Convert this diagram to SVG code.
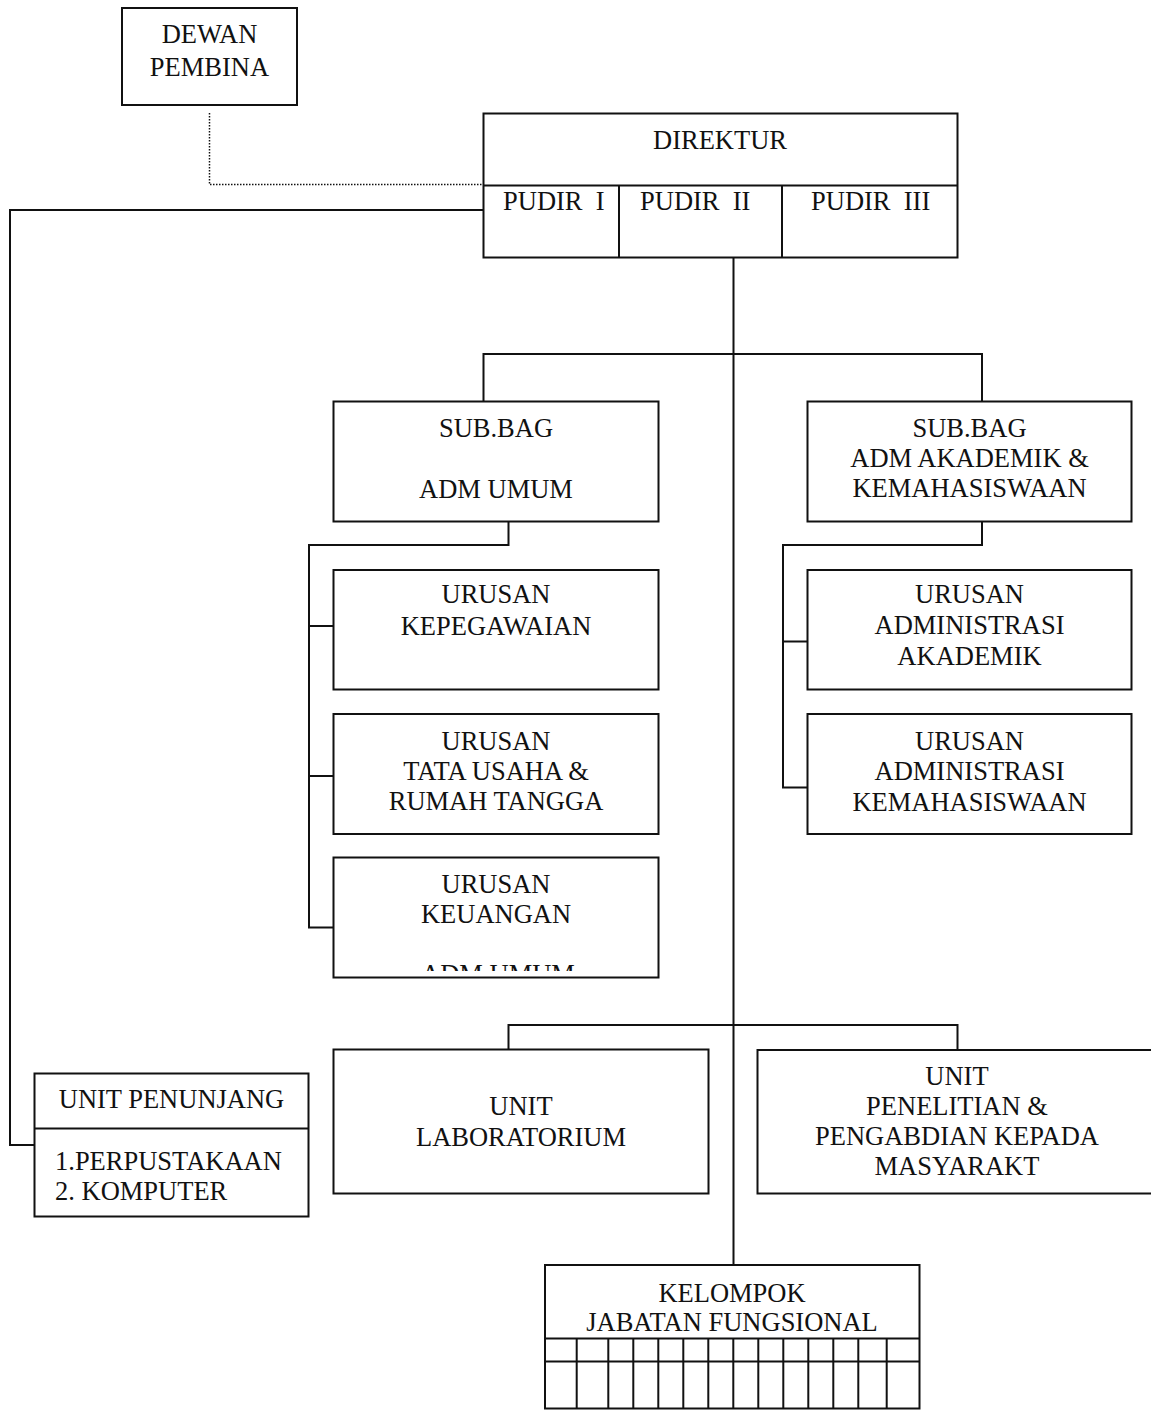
<svg xmlns="http://www.w3.org/2000/svg" width="1151" height="1420" viewBox="0 0 1151 1420">
<style>
  .box { fill: #ffffff; stroke: #111; stroke-width: 2; }
  .ln { fill: none; stroke: #111; stroke-width: 2; }
  .dot { fill: none; stroke: #111; stroke-width: 1.5; stroke-dasharray: 1.5 1.5; }
  text { font-family: "Liberation Serif", "Times New Roman", serif; font-size: 26.5px; fill: #111; }
  .c { text-anchor: middle; }
</style>
<defs>
  <clipPath id="clipKeu"><rect x="334" y="858" width="324" height="113"/></clipPath>
</defs>
<rect width="1151" height="1420" fill="#ffffff"/>

<g id="connectors">
  <path class="dot" d="M209.5,113 V184.5 H483"/>
  <path class="ln" d="M483,210 H10 V1145 H35"/>
  <path class="ln" d="M733.5,257.5 V1265"/>
  <path class="ln" d="M483.5,401.5 V354 H982 V401.5"/>
  <path class="ln" d="M508.5,521.5 V545 H309 V927.5 H333.5"/>
  <path class="ln" d="M309,626 H333.5 M309,776 H333.5"/>
  <path class="ln" d="M982,521.5 V545 H783 V787.5 H807.5"/>
  <path class="ln" d="M783,641.5 H807.5"/>
  <path class="ln" d="M508.5,1049.5 V1025 H957.5 V1050"/>
</g>

<g id="dewan-pembina">
  <rect class="box" x="122" y="8" width="175" height="97"/>
  <text class="c" x="209.5" y="42.5">DEWAN</text>
  <text class="c" x="209.5" y="75.5">PEMBINA</text>
</g>

<g id="direktur">
  <rect class="box" x="483.5" y="113.5" width="474" height="144"/>
  <path class="ln" d="M483.5,185.5 H957.5 M619,185.5 V257.5 M782,185.5 V257.5"/>
  <text class="c" x="720" y="149">DIREKTUR</text>
  <text x="503" y="210" xml:space="preserve">PUDIR  I</text>
  <text x="640" y="210" xml:space="preserve">PUDIR  II</text>
  <text x="811" y="210" xml:space="preserve">PUDIR  III</text>
</g>

<g id="subbag-adm-umum">
  <rect class="box" x="333.5" y="401.5" width="325" height="120"/>
  <text class="c" x="496" y="436.5">SUB.BAG</text>
  <text class="c" x="496" y="498">ADM UMUM</text>
</g>

<g id="subbag-akademik">
  <rect class="box" x="807.5" y="401.5" width="324" height="120"/>
  <text class="c" x="969.5" y="436.5">SUB.BAG</text>
  <text class="c" x="969.5" y="466.5">ADM AKADEMIK &amp;</text>
  <text class="c" x="969.5" y="496.5">KEMAHASISWAAN</text>
</g>

<g id="urusan-kepegawaian">
  <rect class="box" x="333.5" y="570" width="325" height="119.5"/>
  <text class="c" x="496" y="603">URUSAN</text>
  <text class="c" x="496" y="635">KEPEGAWAIAN</text>
</g>

<g id="urusan-tata-usaha">
  <rect class="box" x="333.5" y="714" width="325" height="120"/>
  <text class="c" x="496" y="750">URUSAN</text>
  <text class="c" x="496" y="780">TATA USAHA &amp;</text>
  <text class="c" x="496" y="810">RUMAH TANGGA</text>
</g>

<g id="urusan-keuangan">
  <rect class="box" x="333.5" y="857.5" width="325" height="120"/>
  <text class="c" x="496" y="893">URUSAN</text>
  <text class="c" x="496" y="923">KEUANGAN</text>
  <text class="c" x="498" y="983" clip-path="url(#clipKeu)">ADM UMUM</text>
</g>

<g id="urusan-adm-akademik">
  <rect class="box" x="807.5" y="570" width="324" height="119.5"/>
  <text class="c" x="969.5" y="603">URUSAN</text>
  <text class="c" x="969.5" y="634">ADMINISTRASI</text>
  <text class="c" x="969.5" y="665">AKADEMIK</text>
</g>

<g id="urusan-adm-kemahasiswaan">
  <rect class="box" x="807.5" y="714" width="324" height="120"/>
  <text class="c" x="969.5" y="750">URUSAN</text>
  <text class="c" x="969.5" y="780">ADMINISTRASI</text>
  <text class="c" x="969.5" y="811">KEMAHASISWAAN</text>
</g>

<g id="unit-laboratorium">
  <rect class="box" x="333.5" y="1049.5" width="375" height="144"/>
  <text class="c" x="521" y="1115">UNIT</text>
  <text class="c" x="521" y="1146">LABORATORIUM</text>
</g>

<g id="unit-penelitian">
  <rect class="box" x="757.5" y="1050" width="400" height="143.5"/>
  <text class="c" x="957" y="1085">UNIT</text>
  <text class="c" x="957" y="1115">PENELITIAN &amp;</text>
  <text class="c" x="957" y="1145">PENGABDIAN KEPADA</text>
  <text class="c" x="957" y="1175">MASYARAKT</text>
</g>

<g id="unit-penunjang">
  <rect class="box" x="34.5" y="1073.5" width="274" height="143"/>
  <path class="ln" d="M34.5,1128.5 H308.5"/>
  <text class="c" x="171.5" y="1108">UNIT PENUNJANG</text>
  <text x="55" y="1170">1.PERPUSTAKAAN</text>
  <text x="55" y="1200">2. KOMPUTER</text>
</g>

<g id="kelompok-jabatan-fungsional">
  <rect class="box" x="545" y="1265" width="374.5" height="143.5"/>
  <path class="ln" d="M545,1338.5 H919.5 M545,1361.5 H919.5"/>
  <path class="ln" d="M576.7,1338.5 V1408.5 M608.3,1338.5 V1408.5 M633.3,1338.5 V1408.5 M658.3,1338.5 V1408.5 M683.3,1338.5 V1408.5 M708.3,1338.5 V1408.5 M733.3,1338.5 V1408.5 M758.3,1338.5 V1408.5 M783.3,1338.5 V1408.5 M808.3,1338.5 V1408.5 M833.3,1338.5 V1408.5 M858.3,1338.5 V1408.5 M886.7,1338.5 V1408.5"/>
  <text class="c" x="732" y="1301.5">KELOMPOK</text>
  <text class="c" x="732" y="1331">JABATAN FUNGSIONAL</text>
</g>
</svg>
